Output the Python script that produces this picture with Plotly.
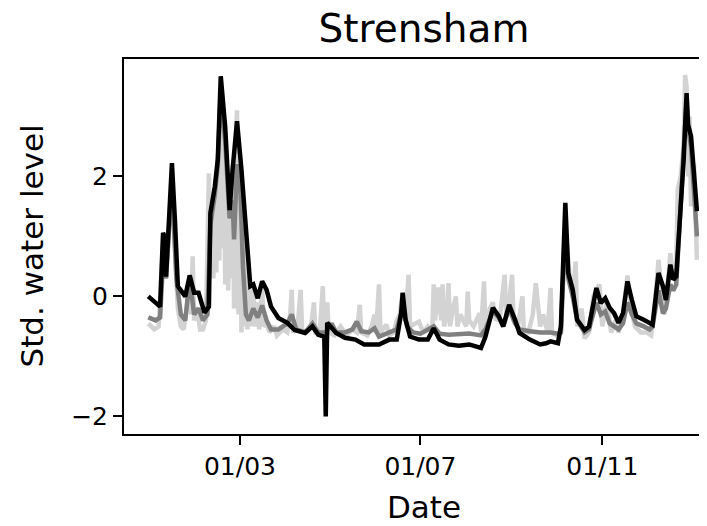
import plotly.graph_objects as go

# ---------------- data ----------------
black_dates = ["2018-12-29","2019-01-06","2019-01-08","2019-01-09","2019-01-10","2019-01-14","2019-01-16","2019-01-18",
 "2019-01-23","2019-01-26","2019-01-29","2019-02-01","2019-02-05","2019-02-08","2019-02-09","2019-02-12","2019-02-14",
 "2019-02-16","2019-02-19","2019-02-22","2019-02-24","2019-02-27","2019-03-02","2019-03-05","2019-03-08","2019-03-10",
 "2019-03-13","2019-03-16","2019-03-19","2019-03-22","2019-03-27","2019-04-02","2019-04-07","2019-04-14","2019-04-19",
 "2019-04-23","2019-04-27","2019-04-28","2019-04-29","2019-05-05","2019-05-11","2019-05-18","2019-05-24","2019-06-03",
 "2019-06-10","2019-06-15","2019-06-18","2019-06-19","2019-06-21","2019-06-24","2019-06-30","2019-07-06","2019-07-10",
 "2019-07-14","2019-07-20","2019-07-27","2019-08-03","2019-08-11","2019-08-14","2019-08-19","2019-08-23","2019-08-26",
 "2019-08-30","2019-09-03","2019-09-06","2019-09-13","2019-09-20","2019-09-24","2019-09-27","2019-10-02","2019-10-04",
 "2019-10-07","2019-10-09","2019-10-12","2019-10-15","2019-10-20","2019-10-23","2019-10-28","2019-10-31","2019-11-03",
 "2019-11-06","2019-11-09","2019-11-12","2019-11-15","2019-11-18","2019-11-21","2019-11-24","2019-11-29","2019-12-03",
 "2019-12-05","2019-12-09","2019-12-12","2019-12-14","2019-12-17","2019-12-19","2019-12-21","2019-12-23","2019-12-26",
 "2019-12-28","2019-12-29","2019-12-31","2020-01-04"]
black_values = [0.00,-0.17,1.06,1.00,0.33,2.22,1.28,0.17,
 0.00,0.35,0.06,0.06,-0.27,-0.17,1.39,1.83,2.28,
 3.67,2.83,1.44,2.11,2.92,2.11,1.10,0.17,0.20,
 -0.03,0.25,0.11,-0.17,-0.36,-0.44,-0.56,-0.61,-0.50,
 -0.64,-0.67,-2.00,-0.44,-0.61,-0.69,-0.72,-0.80,-0.80,
 -0.72,-0.72,-0.28,0.06,-0.39,-0.67,-0.72,-0.72,-0.53,
 -0.72,-0.80,-0.82,-0.80,-0.86,-0.67,-0.19,-0.33,-0.50,
 -0.14,-0.39,-0.61,-0.72,-0.80,-0.78,-0.75,-0.78,-0.50,
 1.56,0.39,0.11,-0.39,-0.56,-0.50,0.14,-0.11,-0.03,
 -0.19,-0.28,-0.44,-0.28,0.25,-0.06,-0.33,-0.39,-0.44,
 -0.47,0.39,0.17,-0.06,0.53,0.28,0.33,1.11,2.28,
 3.39,2.86,2.67,1.42]

gray_dates = ["2018-12-29","2019-01-03","2019-01-06","2019-01-08","2019-01-10","2019-01-14","2019-01-17","2019-01-20",
 "2019-01-23","2019-01-26","2019-01-29","2019-02-01","2019-02-04","2019-02-07","2019-02-09","2019-02-12","2019-02-14",
 "2019-02-16","2019-02-19","2019-02-22","2019-02-24","2019-02-25","2019-02-27","2019-03-01","2019-03-03","2019-03-05",
 "2019-03-07","2019-03-10","2019-03-13","2019-03-16","2019-03-19","2019-03-22","2019-03-27","2019-04-02","2019-04-05",
 "2019-04-08","2019-04-14","2019-04-19","2019-04-23","2019-04-28","2019-05-02","2019-05-05","2019-05-11","2019-05-16",
 "2019-05-19","2019-05-22","2019-05-27","2019-05-31","2019-06-03","2019-06-10","2019-06-15","2019-06-19","2019-06-22",
 "2019-06-26","2019-07-01","2019-07-10","2019-07-14","2019-07-20","2019-07-27","2019-08-03","2019-08-11","2019-08-14",
 "2019-08-19","2019-08-23","2019-08-26","2019-08-30","2019-09-03","2019-09-06","2019-09-13","2019-09-20","2019-09-27",
 "2019-10-02","2019-10-04","2019-10-07","2019-10-09","2019-10-12","2019-10-15","2019-10-20","2019-10-23","2019-10-28",
 "2019-10-31","2019-11-03","2019-11-06","2019-11-09","2019-11-12","2019-11-15","2019-11-18","2019-11-21","2019-11-24",
 "2019-11-29","2019-12-03","2019-12-05","2019-12-09","2019-12-12","2019-12-14","2019-12-17","2019-12-19","2019-12-21",
 "2019-12-23","2019-12-26","2019-12-28","2019-12-29","2019-12-31","2020-01-04"]
gray_values = [-0.35,-0.40,-0.35,0.60,0.30,1.90,0.30,-0.30,
 -0.40,0.30,-0.30,-0.20,-0.40,-0.30,1.20,1.70,2.20,
 3.40,2.60,1.30,1.60,0.95,2.20,2.00,0.50,-0.30,
 -0.40,-0.20,-0.35,-0.15,-0.40,-0.55,-0.55,-0.45,-0.30,
 -0.55,-0.60,-0.45,-0.60,-0.60,-0.45,-0.60,-0.60,-0.55,
 -0.42,-0.58,-0.60,-0.53,-0.67,-0.60,-0.55,-0.20,-0.50,
 -0.60,-0.62,-0.50,-0.62,-0.64,-0.63,-0.62,-0.65,-0.55,
 -0.25,-0.35,-0.50,-0.20,-0.45,-0.55,-0.58,-0.60,-0.60,
 -0.62,-0.60,1.20,0.30,0.00,-0.40,-0.60,-0.55,-0.10,
 -0.30,-0.25,-0.45,-0.50,-0.55,-0.45,-0.10,-0.30,-0.45,
 -0.50,-0.55,-0.50,0.10,-0.28,-0.20,0.20,0.10,0.20,
 1.00,2.20,3.30,2.80,2.50,1.00]

light_dates = ["2018-12-29","2019-01-02","2019-01-05","2019-01-07","2019-01-08","2019-01-10","2019-01-12","2019-01-14",
 "2019-01-16","2019-01-18","2019-01-20","2019-01-22","2019-01-24","2019-01-26","2019-01-27","2019-01-28","2019-01-29",
 "2019-01-31","2019-02-02","2019-02-04","2019-02-06","2019-02-07","2019-02-08","2019-02-09","2019-02-10","2019-02-11",
 "2019-02-12","2019-02-13","2019-02-14","2019-02-15","2019-02-16","2019-02-17","2019-02-18","2019-02-19","2019-02-20",
 "2019-02-21","2019-02-22","2019-02-23","2019-02-24","2019-02-25","2019-02-26","2019-02-27","2019-02-28","2019-03-01",
 "2019-03-02","2019-03-03","2019-03-04","2019-03-05","2019-03-06","2019-03-07","2019-03-08","2019-03-10","2019-03-11",
 "2019-03-13","2019-03-14","2019-03-16","2019-03-17","2019-03-19","2019-03-21","2019-03-24","2019-03-26","2019-03-30",
 "2019-04-02","2019-04-04","2019-04-05","2019-04-06","2019-04-09","2019-04-11","2019-04-12","2019-04-15","2019-04-18",
 "2019-04-20","2019-04-21","2019-04-24","2019-04-26","2019-04-27","2019-04-29","2019-04-30","2019-05-04","2019-05-08",
 "2019-05-12","2019-05-16","2019-05-19","2019-05-21","2019-05-22","2019-05-26","2019-05-29","2019-05-31","2019-06-01",
 "2019-06-03","2019-06-04","2019-06-08","2019-06-10","2019-06-13","2019-06-15","2019-06-17","2019-06-19","2019-06-21",
 "2019-06-23","2019-06-24","2019-06-27","2019-06-30","2019-07-03","2019-07-06","2019-07-09","2019-07-10","2019-07-11",
 "2019-07-12","2019-07-13","2019-07-14","2019-07-15","2019-07-16","2019-07-17","2019-07-19","2019-07-20","2019-07-21",
 "2019-07-23","2019-07-25","2019-07-26","2019-07-28","2019-08-01","2019-08-02","2019-08-03","2019-08-06","2019-08-10",
 "2019-08-11","2019-08-13","2019-08-14","2019-08-17","2019-08-19","2019-08-21","2019-08-24","2019-08-27","2019-08-28",
 "2019-08-30","2019-09-01","2019-09-02","2019-09-05","2019-09-08","2019-09-09","2019-09-12","2019-09-15","2019-09-17",
 "2019-09-18","2019-09-20","2019-09-22","2019-09-25","2019-09-27","2019-09-28","2019-10-01","2019-10-04","2019-10-07",
 "2019-10-09","2019-10-10","2019-10-12","2019-10-14","2019-10-15","2019-10-18","2019-10-20","2019-10-23","2019-10-26",
 "2019-10-28","2019-10-30","2019-11-01","2019-11-04","2019-11-07","2019-11-10","2019-11-12","2019-11-15","2019-11-18",
 "2019-11-20","2019-11-23","2019-11-27","2019-12-01","2019-12-04","2019-12-07","2019-12-09","2019-12-11","2019-12-13",
 "2019-12-15","2019-12-17","2019-12-19","2019-12-21","2019-12-22","2019-12-24","2019-12-26","2019-12-27","2019-12-28",
 "2019-12-29","2019-12-30","2019-12-31","2020-01-02","2020-01-04"]
light_values = [-0.45,-0.55,-0.50,0.50,0.90,0.30,1.20,2.00,
 0.80,-0.20,-0.50,-0.55,-0.20,0.30,-0.30,0.67,-0.40,
 -0.20,-0.55,-0.55,-0.40,0.60,2.05,0.50,1.60,0.30,
 1.80,0.40,2.30,0.60,3.50,0.80,2.80,0.20,2.30,
 0.10,1.50,0.30,2.20,-0.20,2.50,3.10,-0.30,2.40,
 -0.60,1.80,-0.50,1.00,-0.55,0.30,-0.50,0.20,-0.50,
 -0.10,-0.55,0.15,-0.50,-0.45,-0.60,-0.50,-0.65,-0.55,
 -0.60,-0.30,0.11,-0.60,-0.50,0.11,-0.55,-0.60,-0.50,
 -0.10,-0.60,-0.60,0.17,-0.60,-0.10,-0.60,-0.65,-0.50,
 -0.65,-0.55,-0.60,-0.14,-0.60,-0.65,-0.50,-0.30,-0.60,
 0.20,-0.60,-0.47,-0.65,-0.60,-0.40,-0.30,0.06,-0.40,
 0.36,-0.50,-0.45,-0.42,-0.60,-0.50,-0.60,0.20,-0.40,
 0.15,-0.30,0.15,-0.40,0.20,-0.50,-0.30,0.22,-0.50,
 -0.20,0.00,-0.50,-0.30,-0.50,0.08,-0.40,-0.50,-0.28,
 -0.60,0.25,-0.50,-0.20,-0.10,-0.40,-0.30,0.36,-0.30,
 -0.10,0.36,-0.40,-0.50,0.00,-0.60,-0.60,-0.30,0.22,
 -0.10,-0.50,-0.30,-0.60,0.14,-0.60,-0.65,-0.60,1.20,
 0.50,0.30,0.00,0.58,-0.50,-0.20,-0.70,-0.60,0.00,
 0.10,0.20,-0.50,-0.10,-0.60,-0.40,-0.60,-0.30,0.35,
 -0.10,-0.50,-0.60,-0.60,-0.65,0.00,0.61,0.10,-0.30,
 0.10,0.72,0.30,0.50,1.78,2.00,2.50,3.69,3.50,
 2.00,3.00,1.50,2.20,0.61]

tick_dates = ["2019-03-01", "2019-07-01", "2019-11-01"]
tick_labels = ["01/03", "01/07", "01/11"]
y_ticks = [-2, 0, 2]

title_text = "Strensham"
x_label = "Date"
y_label = "Std. water level"

# ---------------- figure ----------------
# the page body has an 8px default margin, so the figure is drawn 8px in
# from the top-left corner of the window: size and margins compensate.
FONT = "DejaVu Sans"
W, H = 699, 518
fig = go.Figure()
fig.add_trace(go.Scatter(x=light_dates, y=light_values, mode="lines",
                         line=dict(color="#d3d3d3", width=4.5), showlegend=False))
fig.add_trace(go.Scatter(x=gray_dates, y=gray_values, mode="lines",
                         line=dict(color="#808080", width=4.5), showlegend=False))
fig.add_trace(go.Scatter(x=black_dates, y=black_values, mode="lines",
                         line=dict(color="#000000", width=4.5), showlegend=False))

fig.update_layout(
    width=W, height=H,
    margin=dict(l=116, r=0, t=51, b=92),
    paper_bgcolor="white", plot_bgcolor="white",
    font=dict(family=FONT, color="black"),
    title=dict(text=title_text, font=dict(size=39, family=FONT, color="black"),
               x=0.5146, xref="paper", xanchor="center",
               y=1 - 20 / H, yref="container", yanchor="middle"),
    xaxis=dict(type="date", range=["2018-12-12 14:00", "2020-01-10 19:00"],
               tickvals=tick_dates, ticktext=tick_labels,
               showgrid=False, zeroline=False,
               showline=True, linecolor="black", linewidth=2, mirror=True,
               ticks="outside", ticklen=9, tickwidth=2, tickcolor="black",
               tickfont=dict(size=25, family=FONT, color="black")),
    yaxis=dict(range=[-2.293, 3.957], tickvals=y_ticks,
               showgrid=False, zeroline=False,
               showline=True, linecolor="black", linewidth=2, mirror=False,
               ticks="outside", ticklen=9, tickwidth=2, tickcolor="black",
               tickfont=dict(size=25, family=FONT, color="black")),
    annotations=[
        dict(text=x_label, xref="paper", yref="paper", x=0.5146, y=-0.194,
             xanchor="center", yanchor="middle", showarrow=False,
             font=dict(size=31, family=FONT, color="black")),
        dict(text=y_label, xref="paper", yref="paper", x=-0.1595, y=0.5,
             xanchor="center", yanchor="middle", textangle=-90, showarrow=False,
             font=dict(size=31, family=FONT, color="black")),
    ],
)

fig.write_html("out.html")
